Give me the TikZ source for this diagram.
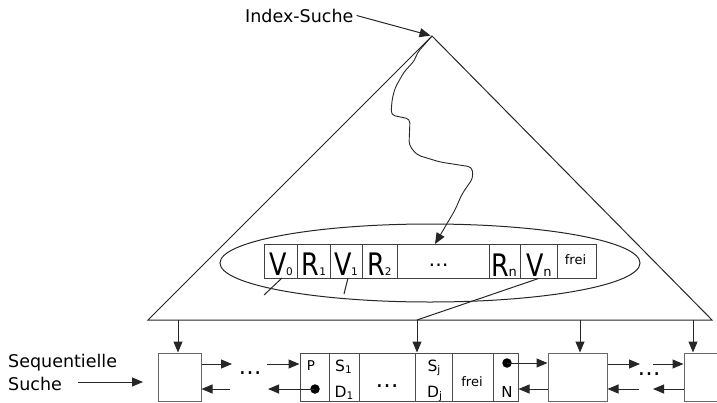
\documentclass[tikz,border=0pt]{standalone}
\usepackage{fontspec}
\usepackage{graphicx}
\setmainfont{DejaVu Sans}
\usetikzlibrary{arrows.meta,shapes.geometric}
\newcommand\bigletter[1]{\scalebox{0.82}[1]{\fontsize{31}{31}\selectfont #1}}
\newcommand\subdig[1]{{\fontsize{10.5}{10.5}\selectfont #1}}
\newcommand\subn[1]{{\fontsize{13}{13}\selectfont #1}}
\newcommand\midletter[1]{{\fontsize{15.5}{15.5}\selectfont #1}}
\newcommand\lowsub[1]{\raisebox{-2.5pt}{\fontsize{10.5}{10.5}\selectfont #1}}
\begin{document}
\begin{tikzpicture}[x=1pt,y=-1pt,
  ln/.style={draw=black!85, line width=1pt},
  arr/.style={ln, -{Triangle[length=11pt,width=9pt]}},
  cell/.style={draw=black!75, line width=1pt, minimum height=34pt, inner sep=0pt},
  bcell/.style={draw=black!60, line width=1pt, minimum height=48pt, inner sep=0pt},
  bigdot/.style={circle, fill=black, inner sep=0pt, minimum size=9.5pt},
  lbl/.style={inner sep=0pt, anchor=base},
  txt/.style={inner sep=0pt, font=\fontsize{17.5}{23}\selectfont}
]
\useasboundingbox (0,0) rectangle (717,402);
% triangle (index tree)
\coordinate (apex) at (432,36);
\coordinate (bl) at (148,320);
\coordinate (br) at (712,320);
\draw[ln, line join=miter] (apex) -- (bl) -- (br) -- cycle;
% Index-Suche
\node[txt, anchor=base west] (idx) at (245,22) {Index-Suche};
\draw[arr, shorten >=1.5pt] (idx.east) ++(3pt,0) -- (apex);
% ellipse
\node[ln, ellipse, minimum width=420pt, minimum height=78pt, inner sep=0pt] (ell) at (430,263) {};
% record cells
\foreach \n/\x/\w in {v0/280.5/33, r1/313.5/33, v1/346/32, r2/379.5/35, rd/443/92, rn/504.5/31, vn/538.5/37, rf/576.5/39}
  \node[cell, fill=white, minimum width=\w pt] (\n) at (\x,261) {};
\node[lbl] (lv0) at (281,275) {\bigletter{V}\kern-0.5pt\subdig{0}};
\node[lbl] (lr1) at (314,275) {\bigletter{R}\subdig{1}};
\node[lbl] (lv1) at (346,275) {\bigletter{V}\kern-0.5pt\subdig{1}};
\node[lbl] (lr2) at (379.5,275) {\bigletter{R}\subdig{2}};
\node[lbl, font=\fontsize{20}{20}\selectfont] (lrd) at (438.5,266) {…};
\node[lbl] (lrn) at (504,276) {\bigletter{R}\subn{n}};
\node[lbl] (lvn) at (539,276) {\bigletter{V}\kern-0.5pt\subn{n}};
\node[lbl, font=\fontsize{13}{13}\selectfont] (lrf) at (575.5,264) {frei};
% pointer stubs
\coordinate (p0a) at (282,278); \coordinate (p0b) at (264,295);
\draw[ln] (p0a) -- (p0b);
\coordinate (p1a) at (348,278); \coordinate (p1b) at (344,294);
\draw[ln] (p1a) -- (p1b);
% squiggly search path
\coordinate (sqend) at (435,244);
\draw[ln, line width=0.9pt, rounded corners=4pt, -{Triangle[length=11pt,width=9pt]}]
  (apex) -- (417,53) -- (415,60) -- (404,72) -- (395,88) -- (392,100) -- (391,115)
  -- (410,119) -- (409,145) -- (417,155) -- (440,162) -- (472,167) -- (473,178)
  -- (462,194) -- (455,210) -- (sqend);
% bottom sequence set
\node[bcell, minimum width=43pt] (box1) at (179.5,377) {};
\foreach \n/\x/\w in {cP/314.5/29, cS/344/30, cD/387/56, cJ/433.5/37, cF/472.5/41, cN/505.5/25}
  \node[bcell, draw=black!70, minimum width=\w pt] (\n) at (\x,377) {};
\node[bcell, minimum width=59pt] (box3) at (577.5,377) {};
\node[bcell, minimum width=33pt] (box4) at (700.5,377) {};
% labels in the big leaf
\node[lbl, font=\fontsize{13.5}{13.5}\selectfont] (lP) at (311,370) {P};
\node[lbl] (lS1) at (343.5,371) {\midletter{S}\lowsub{1}};
\node[lbl] (lD1) at (344,397) {\midletter{D}\lowsub{1}};
\node[lbl, font=\fontsize{23}{23}\selectfont] (lcd) at (387,387) {…};
\node[lbl] (lSj) at (434,371) {\midletter{S}\lowsub{j}};
\node[lbl] (lDj) at (434.5,397) {\midletter{D}\lowsub{j}};
\node[lbl, font=\fontsize{13}{13}\selectfont] (lF) at (472,386) {frei};
\node[lbl, font=\fontsize{15}{15}\selectfont] (lN) at (507,397.5) {N};
\node[bigdot] (dP) at (315,389) {};
\node[bigdot] (dN) at (507,363) {};
% Sequentielle Suche
\node[txt, anchor=north west, align=left] (seq) at (8,354) {Sequentielle\\Suche};
\coordinate (sqa) at (78,382); \coordinate (sqb) at (143,382);
\draw[arr] (sqa) -- (sqb);
% down arrows from the tree
\coordinate (b1) at (178,320);
\coordinate (bv) at (417,320);
\coordinate (b3) at (580,320);
\coordinate (b4) at (693,320);
\draw[ln] (vn.south) -- (bv);
\draw[arr] (b1) -- (b1 |- box1.north);
\draw[arr] (bv) -- (bv |- cJ.north);
\draw[arr] (b3) -- (b3 |- box3.north);
\draw[arr] (b4) -- (b4 |- box4.north);
% horizontal chain arrows
\coordinate (h1) at (232,364); \draw[arr] (box1.east |- h1) -- (h1);
\node[lbl, font=\fontsize{23}{23}\selectfont] (ld1) at (250,374) {…};
\coordinate (h2) at (267,364); \draw[arr] (h2) -- (h2 -| cP.west);
\coordinate (h3) at (230,389); \draw[arr] (h3) -- (h3 -| box1.east);
\coordinate (h4) at (268,389); \draw[arr] (dP.center) -- (h4);
\draw[arr] (dN.center) -- (dN.center -| box3.west);
\coordinate (h5) at (548,389); \draw[arr] (h5) -- (h5 -| cN.east);
\coordinate (h6) at (640,364); \draw[arr] (box3.east |- h6) -- (h6);
\node[lbl, font=\fontsize{23}{23}\selectfont] (ld2) at (649,375) {…};
\coordinate (h7) at (653,364); \draw[arr] (h7) -- (h7 -| box4.west);
\coordinate (h8) at (653,389); \draw[arr] (h8 -| box4.west) -- (h8);
\coordinate (h9) at (639,389); \draw[arr] (h9) -- (h9 -| box3.east);
\end{tikzpicture}
\end{document}
